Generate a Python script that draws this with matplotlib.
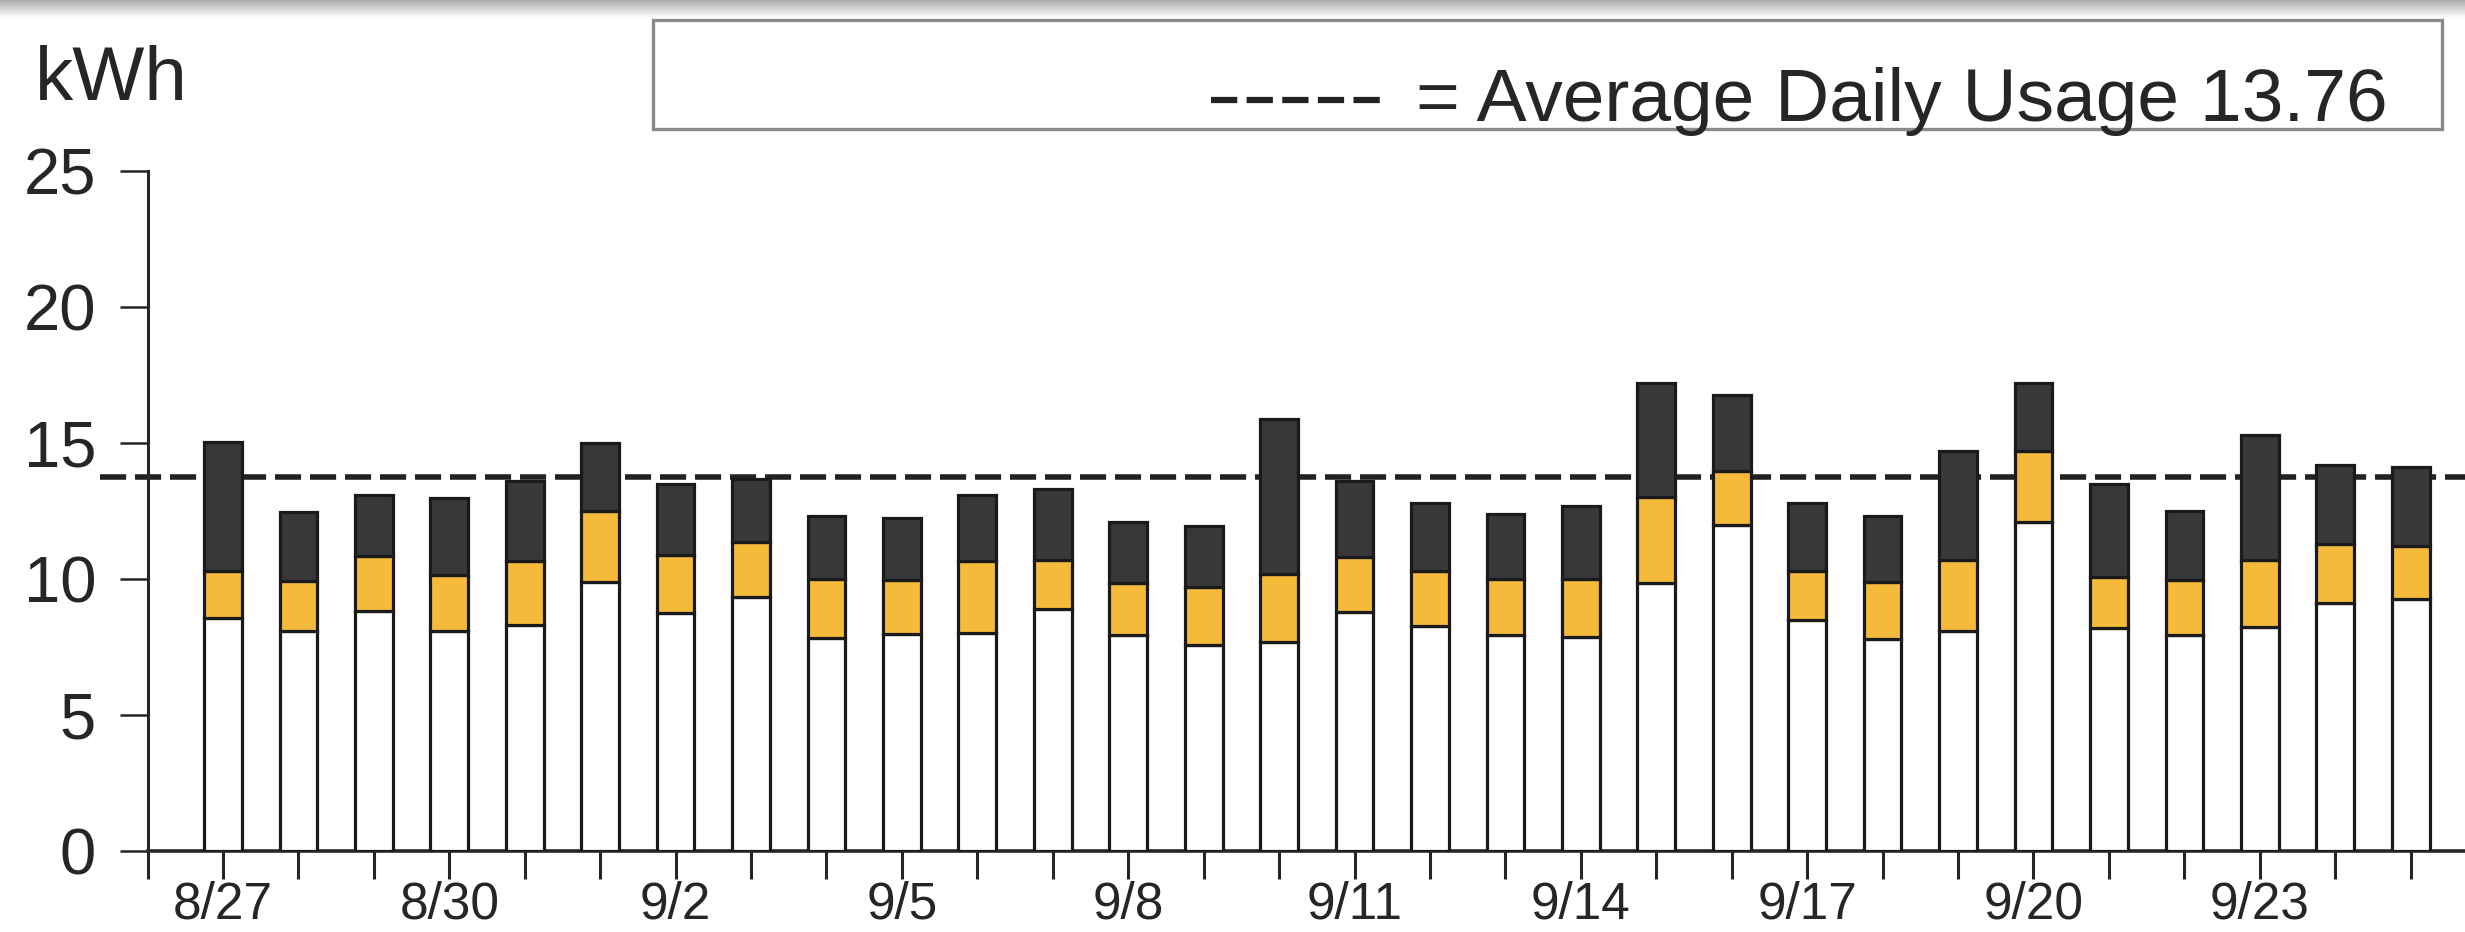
import numpy as np
import matplotlib
matplotlib.use("Agg")
import matplotlib.pyplot as plt
from matplotlib.lines import Line2D
from matplotlib.patches import Rectangle

plt.rcParams["font.family"] = ["Liberation Sans", "DejaVu Sans"]

# Daily usage, 8/27 through 9/25 (kWh), split into three stacked parts
dates = ["8/27", "8/28", "8/29", "8/30", "8/31", "9/1", "9/2", "9/3", "9/4", "9/5",
         "9/6", "9/7", "9/8", "9/9", "9/10", "9/11", "9/12", "9/13", "9/14", "9/15",
         "9/16", "9/17", "9/18", "9/19", "9/20", "9/21", "9/22", "9/23", "9/24", "9/25"]
base_kwh = [8.55, 8.10, 8.82, 8.10, 8.32, 9.90, 8.74, 9.33, 7.82, 7.96,
            8.00, 8.90, 7.93, 7.56, 7.68, 8.77, 8.28, 7.94, 7.85, 9.84,
            12.00, 8.50, 7.80, 8.10, 12.10, 8.20, 7.95, 8.25, 9.10, 9.27]
mid_kwh = [1.75, 1.83, 2.03, 2.05, 2.34, 2.60, 2.16, 2.03, 2.17, 2.00,
           2.66, 1.80, 1.91, 2.14, 2.52, 2.03, 2.02, 2.05, 2.15, 3.16,
           1.98, 1.80, 2.10, 2.60, 2.60, 1.86, 2.01, 2.45, 2.20, 1.93]
peak_kwh = [4.75, 2.52, 2.25, 2.81, 2.94, 2.50, 2.60, 2.30, 2.31, 2.29,
            2.44, 2.60, 2.26, 2.24, 5.70, 2.80, 2.50, 2.41, 2.70, 4.20,
            2.77, 2.50, 2.40, 4.00, 2.50, 3.44, 2.54, 4.60, 2.90, 2.90]
avg_usage = 13.76
y_ticks = [0, 5, 10, 15, 20, 25]
label_every = 3

W, H = 2465, 932
fig = plt.figure(figsize=(W / 100, H / 100), dpi=100)
fig.patch.set_facecolor("white")

# grey strip along the top edge
band = fig.add_axes([0, 1 - 18 / H, 1, 18 / H])
grad = np.linspace(0.68, 1.0, 36).reshape(-1, 1)
band.imshow(np.dstack([grad, grad, grad]), aspect="auto", extent=[0, 1, 0, 1])
band.set_axis_off()

ax = fig.add_axes([147.5 / W, 81 / H, 1 - 147.5 / W, 680 / H])
ax.set_facecolor("none")

x = np.arange(len(dates))
base = np.array(base_kwh)
mid = np.array(mid_kwh)
peak = np.array(peak_kwh)

edge = "#1a1a1a"
bw = 0.5
lw_bar = 2.3
ax.bar(x, base, width=bw, color="white", edgecolor=edge, linewidth=lw_bar, zorder=3)
ax.bar(x, mid, width=bw, bottom=base, color="#F5BA3A", edgecolor=edge, linewidth=lw_bar, zorder=3)
ax.bar(x, peak, width=bw, bottom=base + mid, color="#38383a", edgecolor=edge, linewidth=lw_bar, zorder=3)

# average line, drawn behind the bars and running past the y axis
ax.axhline(avg_usage, xmin=-48 / 2317.5, xmax=1, color="#222222", lw=4,
           dashes=(4.7, 1.6), clip_on=False, zorder=1)

ax.set_xlim(-1, 29.72)
ax.set_ylim(0, 25)

tick_pos = np.arange(-1, len(dates))
tick_lab = [dates[i] if (i >= 0 and i % label_every == 0) else "" for i in tick_pos]
ax.set_xticks(tick_pos)
ax.set_xticklabels(tick_lab)
ax.set_yticks(y_ticks)
ax.set_yticklabels([str(v) for v in y_ticks])

ax.tick_params(axis="x", direction="out", length=20, width=2.2, pad=1,
               labelsize=37, colors="#262626")
ax.tick_params(axis="y", direction="out", length=20, width=1.8, pad=17,
               labelsize=47, colors="#262626")
for s in ("top", "right"):
    ax.spines[s].set_visible(False)
ax.spines["left"].set_color("#262626")
ax.spines["left"].set_linewidth(2.2)
ax.spines["bottom"].set_color("#262626")
ax.spines["bottom"].set_linewidth(2.6)

# unit label
fig.text(35 / W, 1 - 100 / H, "kWh", fontsize=55, ha="left", va="baseline", color="#262626")

# legend box with dashed sample and text
fig.add_artist(Rectangle((653 / W, 1 - 128.5 / H), (2442 - 653) / W, 109 / H,
                         transform=fig.transFigure, facecolor="none",
                         edgecolor="#8a8a8a", linewidth=2.4))
fig.add_artist(Line2D([1211 / W, 1386 / W], [1 - 100 / H, 1 - 100 / H],
                      transform=fig.transFigure, color="#222222", lw=4.5,
                      dashes=(4.2, 1.5)))
fig.text(2388 / W, 1 - 121 / H, f"= Average Daily Usage {avg_usage:.2f}",
         fontsize=54, ha="right", va="baseline", color="#262626")

fig.savefig("out.png", dpi=100)
